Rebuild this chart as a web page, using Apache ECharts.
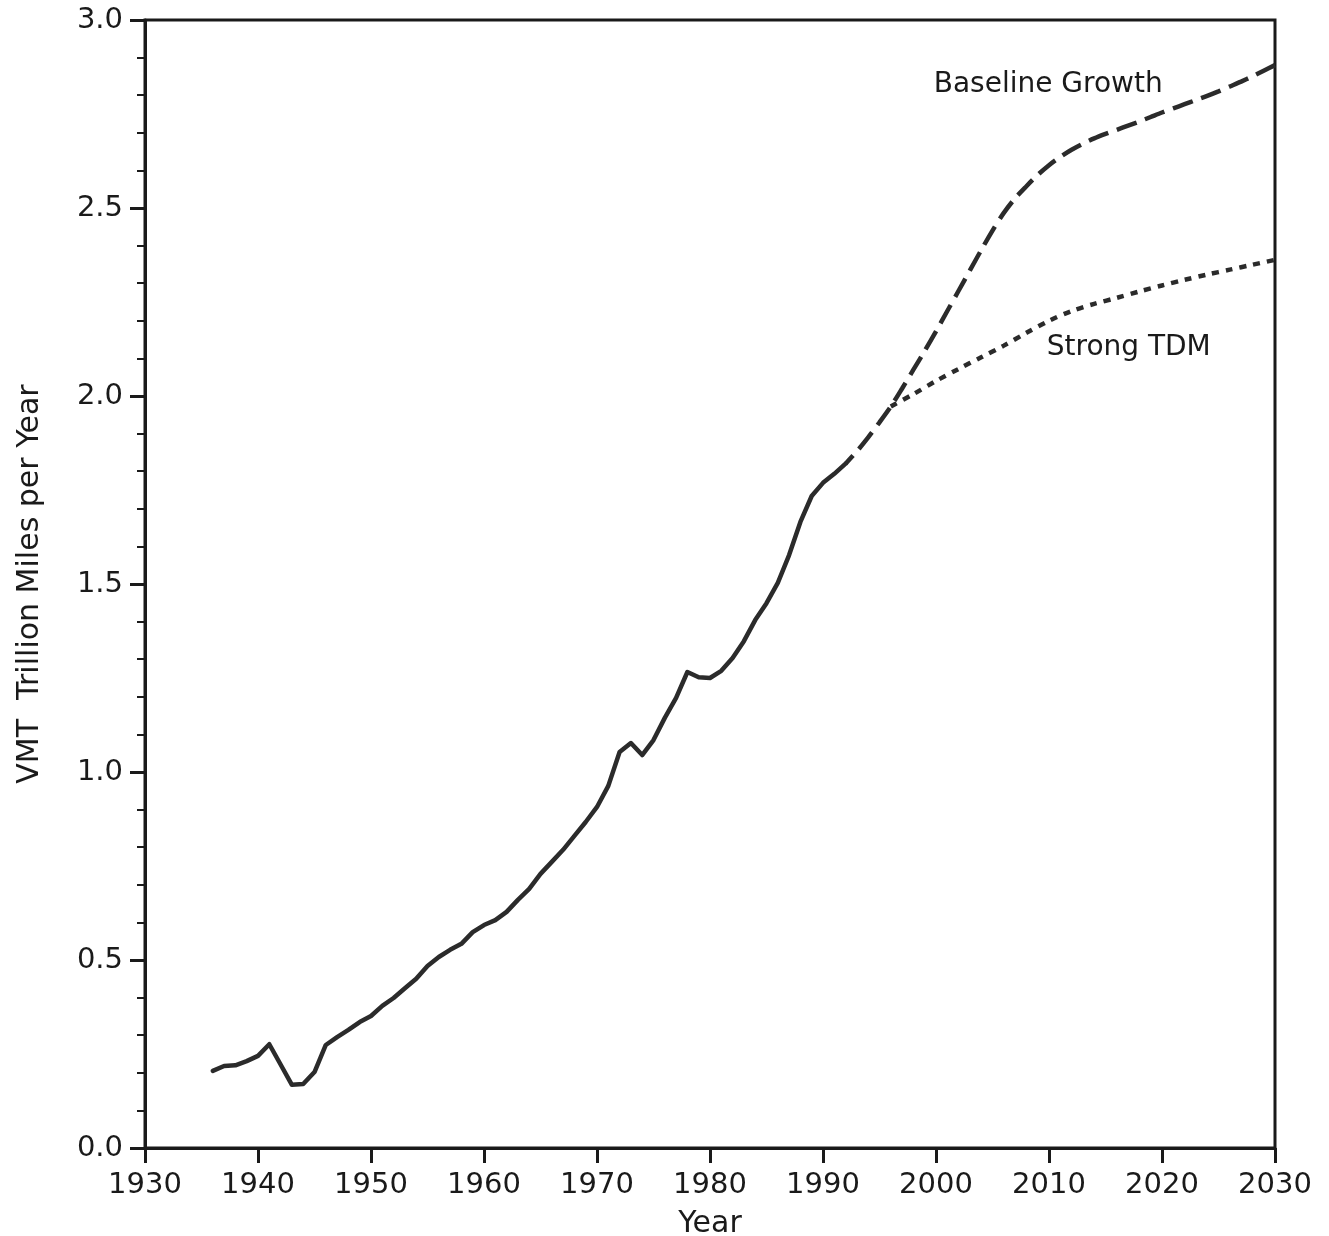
<!DOCTYPE html>
<html>
<head>
<meta charset="utf-8">
<script src="https://cdn.jsdelivr.net/npm/echarts@6/dist/echarts.min.js"></script>
<style>
  html, body { margin: 0; padding: 0; background: #fff; }
  #chart { width: 1329px; height: 1236px; }
</style>
</head>
<body>
<div id="chart"></div>
<script>
// ---- data ----
const histYears = [1936,1937,1938,1939,1940,1941,1942,1943,1944,1945,1946,1947,1948,1949,
  1950,1951,1952,1953,1954,1955,1956,1957,1958,1959,1960,1961,1962,1963,1964,1965,1966,
  1967,1968,1969,1970,1971,1972,1973,1974,1975,1976,1977,1978,1979,1980,1981,1982,1983,
  1984,1985,1986,1987,1988,1989,1990,1991,1992];
const histVmt = [0.205,0.218,0.220,0.231,0.245,0.276,0.222,0.168,0.170,0.202,0.274,0.295,0.314,0.335,
  0.351,0.378,0.399,0.425,0.450,0.484,0.508,0.527,0.543,0.574,0.593,0.606,0.628,0.660,0.689,0.729,0.761,
  0.793,0.830,0.867,0.907,0.963,1.053,1.077,1.045,1.085,1.144,1.197,1.266,1.252,1.250,1.269,1.303,1.348,
  1.404,1.449,1.503,1.577,1.665,1.734,1.769,1.793,1.820];

const baseYears = [1992,1993,1994,1995,1996,1997,1998,1999,2000,2001,2002,2003,2004,2005,2006,2007,2008,2009,2010,
  2011,2012,2013,2014,2015,2016,2017,2018,2019,2020,2021,2022,2023,2024,2025,2026,2027,2028,2029,2030];
const baseVmt = [1.820,1.853,1.890,1.930,1.972,2.020,2.070,2.120,2.172,2.226,2.280,2.334,2.388,2.440,2.487,2.526,2.558,2.588,2.614,
  2.636,2.655,2.671,2.685,2.697,2.708,2.719,2.730,2.742,2.754,2.765,2.776,2.787,2.798,2.810,2.823,2.836,2.850,2.865,2.880];

const tdmYears = [1996,1998,2000,2002,2004,2006,2008,2010,2012,2014,2016,2018,2020,2022,2024,2026,2028,2030];
const tdmVmt = [1.972,2.005,2.040,2.072,2.103,2.134,2.168,2.200,2.226,2.245,2.261,2.278,2.294,2.309,2.323,2.336,2.349,2.362];

const seriesNames = ['Historical', 'Baseline Growth', 'Strong TDM'];
const labelAnchors = { 'Baseline Growth': [1999.8, 2.827], 'Strong TDM': [2009.8, 2.128] };

const xAxisName = 'Year';
const yAxisName = 'VMT  Trillion Miles per Year';

// ---- chart ----
const FONT = 'DejaVu Sans';
const INK = '#1a1a1a';
const LINE = '#2b2b2b';
const zip = (xs, ys) => xs.map((x, i) => [x, ys[i]]);

function annot(name) {
  return {
    silent: true,
    symbol: 'circle',
    symbolSize: 0,
    data: [{ coord: labelAnchors[name] }],
    label: {
      show: true, position: 'right', distance: 0, formatter: name,
      fontFamily: FONT, fontSize: 28, color: INK
    }
  };
}

const chart = echarts.init(document.getElementById('chart'), null, { renderer: 'canvas' });
chart.setOption({
  animation: false,
  backgroundColor: '#ffffff',
  grid: {
    left: 145, right: 54, top: 20, bottom: 88,
    outerBoundsMode: 'none', containLabel: false,
    show: true, borderColor: INK, borderWidth: 3, backgroundColor: 'transparent'
  },
  xAxis: {
    type: 'value', min: 1930, max: 2030, interval: 10,
    name: xAxisName, nameLocation: 'middle', nameGap: 61,
    nameTextStyle: { fontFamily: FONT, fontSize: 30, color: INK },
    axisLine: { show: true, lineStyle: { color: INK, width: 3 } },
    axisTick: { show: true, length: 15, lineStyle: { color: INK, width: 3 } },
    axisLabel: { fontFamily: FONT, fontSize: 29, color: INK, margin: 23, formatter: v => String(v) },
    splitLine: { show: false }
  },
  yAxis: {
    type: 'value', min: 0, max: 3, interval: 0.5,
    name: yAxisName, nameLocation: 'middle', nameGap: 100, nameRotate: 90,
    nameTextStyle: { fontFamily: FONT, fontSize: 30, color: INK },
    axisLine: { show: true, lineStyle: { color: INK, width: 3 } },
    axisTick: { show: true, length: 15, lineStyle: { color: INK, width: 3 } },
    minorTick: { show: true, splitNumber: 5, length: 8, lineStyle: { color: INK, width: 2 } },
    axisLabel: { fontFamily: FONT, fontSize: 29, color: INK, margin: 22, formatter: v => v.toFixed(1) },
    splitLine: { show: false }
  },
  series: [
    {
      name: seriesNames[0], type: 'line', data: zip(histYears, histVmt),
      showSymbol: false, symbol: 'none', smooth: false,
      lineStyle: { color: LINE, width: 4.5, join: 'round', cap: 'round' }
    },
    {
      name: seriesNames[1], type: 'line', data: zip(baseYears, baseVmt),
      showSymbol: false, symbol: 'none', smooth: 0.3,
      lineStyle: { color: LINE, width: 4.5, type: [21, 9], dashOffset: 10 },
      markPoint: annot(seriesNames[1])
    },
    {
      name: seriesNames[2], type: 'line', data: zip(tdmYears, tdmVmt),
      showSymbol: false, symbol: 'none', smooth: 0.3,
      lineStyle: { color: LINE, width: 4.5, type: [7, 7] },
      markPoint: annot(seriesNames[2])
    }
  ]
});
</script>
</body>
</html>
